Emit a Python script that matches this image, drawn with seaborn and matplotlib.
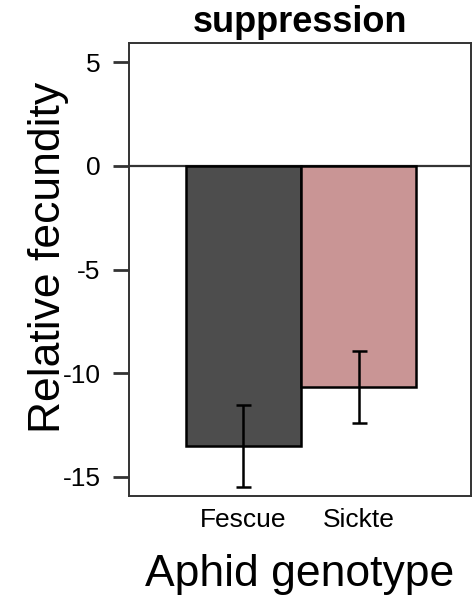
import matplotlib
matplotlib.use("Agg")
import matplotlib.pyplot as plt
import seaborn as sns
import pandas as pd

# Mean relative fecundity (with standard errors) per aphid genotype
genotypes = ["Fescue", "Sickte"]
mean_fecundity = [-13.52, -10.69]
se_fecundity = [1.97, 1.74]
bar_colors = ["#4d4d4d", "#c99595"]
y_ticks = [5, 0, -5, -10, -15]

df = pd.DataFrame({"genotype": genotypes, "fecundity": mean_fecundity})

sns.set_style("white")
plt.rcParams["font.family"] = ["Liberation Sans", "DejaVu Sans"]
plt.rcParams["text.color"] = "black"
plt.rcParams["axes.labelcolor"] = "black"

fig = plt.figure(figsize=(4.75, 6.02), dpi=100)
ax = fig.add_axes([0.2716, 0.1766, 0.7200, 0.7520])

ax.axhline(0, color="#333333", lw=1.6, zorder=1)

sns.barplot(
    data=df, x="genotype", y="fecundity", hue="genotype",
    palette=bar_colors, order=genotypes, hue_order=genotypes,
    width=1.0, errorbar=None, legend=False, saturation=1,
    edgecolor="black", linewidth=1.8, ax=ax, zorder=2,
)

ax.errorbar(
    x=range(len(genotypes)), y=mean_fecundity, yerr=se_fecundity,
    fmt="none", ecolor="black", elinewidth=1.8, capsize=5.4,
    capthick=1.8, zorder=3,
)

ax.set_xlim(-0.99, 1.975)
ax.set_ylim(-15.92, 5.94)
ax.set_yticks(y_ticks)
ax.set_yticklabels([str(t) for t in y_ticks])

for side in ["left", "right", "top", "bottom"]:
    ax.spines[side].set_visible(True)
    ax.spines[side].set_color("#333333")
    ax.spines[side].set_linewidth(1.4)

ax.tick_params(axis="y", direction="out", length=11.5, width=2.0,
               color="#333333", pad=9, labelsize=19, labelcolor="black", left=True)
ax.tick_params(axis="x", length=0, pad=9, labelsize=19, labelcolor="black")

ax.set_title("suppression", fontsize=26, fontweight="bold", pad=8, color="black")
ax.set_xlabel("Aphid genotype", fontsize=32, color="black")
ax.set_ylabel("Relative fecundity", fontsize=32, color="black")
ax.xaxis.set_label_coords(0.5, -0.128)
ax.yaxis.set_label_coords(-0.176, 0.526)

fig.savefig("out.png", dpi=100)
